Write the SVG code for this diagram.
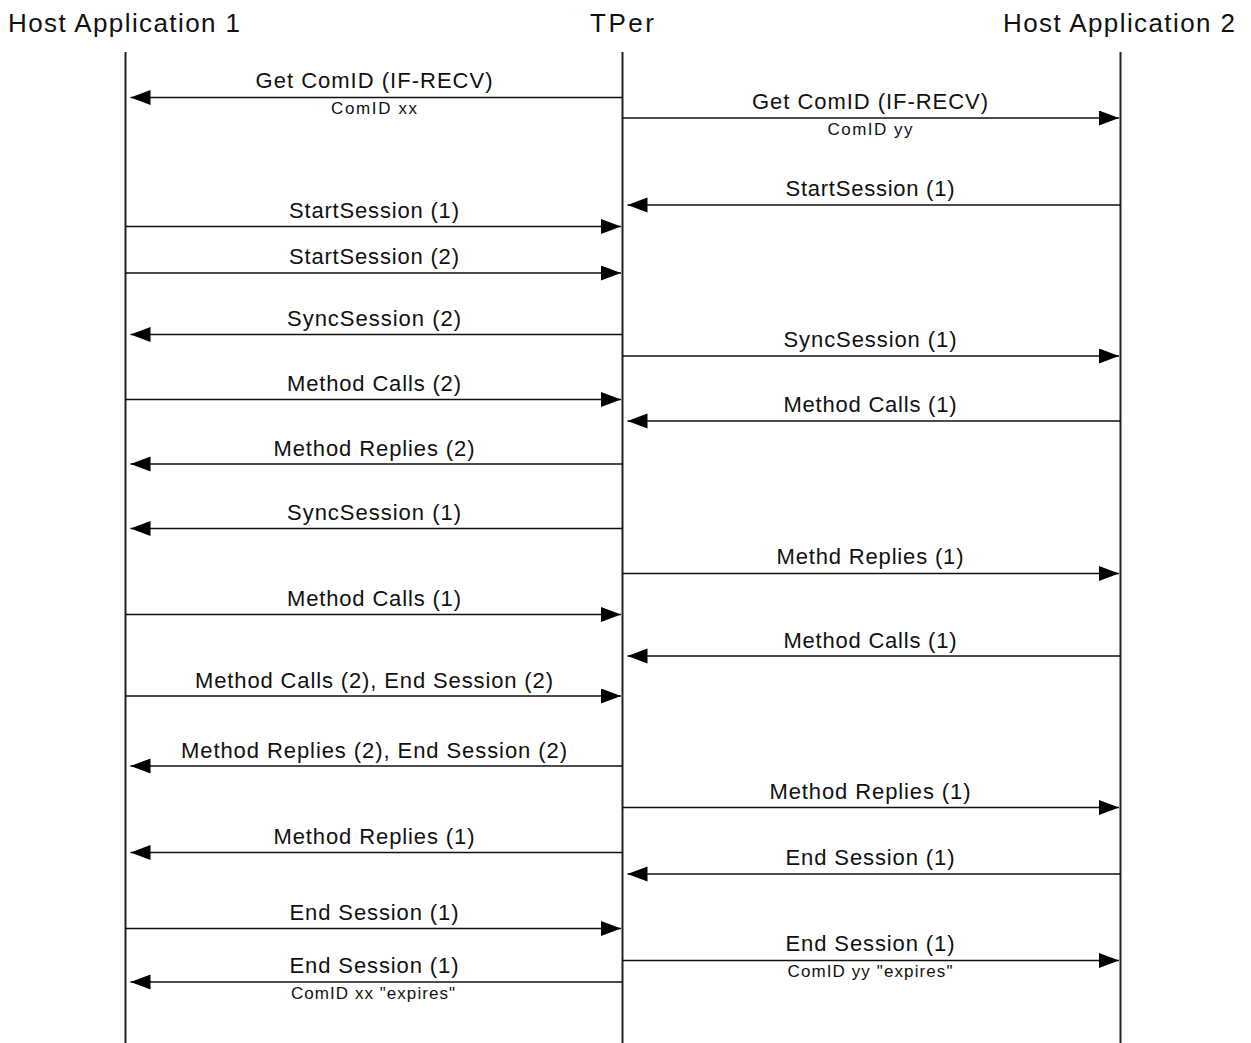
<svg xmlns="http://www.w3.org/2000/svg" width="1251" height="1043" viewBox="0 0 1251 1043">
  <style>
    .head { font-family: "Liberation Sans", Arial, sans-serif; font-size: 26px; fill: #111; }
    .lbl { font-family: "Liberation Sans", Arial, sans-serif; font-size: 22px; fill: #111; text-anchor: middle; }
    .sub { font-family: "Liberation Sans", Arial, sans-serif; font-size: 17px; fill: #111; text-anchor: middle; }
    .life { stroke: #222; stroke-width: 2; fill: none; }
    .msg { stroke: #111; stroke-width: 1.6; fill: none; marker-end: url(#head); }
  </style>
  <defs>
    <marker id="head" markerUnits="userSpaceOnUse" markerWidth="21" markerHeight="16" refX="20" refY="7.5" orient="auto" viewBox="0 0 21 16">
      <path d="M0,0 L20,7.5 L0,15 Z" fill="#000"/>
    </marker>
  </defs>
  <rect width="1251" height="1043" fill="#fff"/>

  <!-- participants -->
  <g id="host1">
    <text class="head" x="8" y="32" textLength="232" lengthAdjust="spacing">Host Application 1</text>
    <line class="life" x1="125.5" y1="52" x2="125.5" y2="1043"/>
  </g>
  <g id="tper">
    <text class="head" x="590" y="32" textLength="64" lengthAdjust="spacing">TPer</text>
    <line class="life" x1="622.5" y1="52" x2="622.5" y2="1043"/>
  </g>
  <g id="host2">
    <text class="head" x="1003" y="32" textLength="232" lengthAdjust="spacing">Host Application 2</text>
    <line class="life" x1="1120.5" y1="52" x2="1120.5" y2="1043"/>
  </g>

  <!-- messages -->
  <g id="connectors">
    <!-- Host Application 1 <-> TPer -->
    <line class="msg" x1="622.5" y1="97.5" x2="130.5" y2="97.5"/>
    <line class="msg" x1="125.5" y1="226.5" x2="621" y2="226.5"/>
    <line class="msg" x1="125.5" y1="273" x2="621" y2="273"/>
    <line class="msg" x1="622.5" y1="334.5" x2="130.5" y2="334.5"/>
    <line class="msg" x1="125.5" y1="399.5" x2="621" y2="399.5"/>
    <line class="msg" x1="622.5" y1="464" x2="130.5" y2="464"/>
    <line class="msg" x1="622.5" y1="528.5" x2="130.5" y2="528.5"/>
    <line class="msg" x1="125.5" y1="614.5" x2="621" y2="614.5"/>
    <line class="msg" x1="125.5" y1="696" x2="621" y2="696"/>
    <line class="msg" x1="622.5" y1="766" x2="130.5" y2="766"/>
    <line class="msg" x1="622.5" y1="852.5" x2="130.5" y2="852.5"/>
    <line class="msg" x1="125.5" y1="928.5" x2="621" y2="928.5"/>
    <line class="msg" x1="622.5" y1="982" x2="130.5" y2="982"/>
    <!-- TPer <-> Host Application 2 -->
    <line class="msg" x1="622.5" y1="118" x2="1119" y2="118"/>
    <line class="msg" x1="1120.5" y1="205" x2="627.5" y2="205"/>
    <line class="msg" x1="622.5" y1="356" x2="1119" y2="356"/>
    <line class="msg" x1="1120.5" y1="421" x2="627.5" y2="421"/>
    <line class="msg" x1="622.5" y1="573.5" x2="1119" y2="573.5"/>
    <line class="msg" x1="1120.5" y1="656" x2="627.5" y2="656"/>
    <line class="msg" x1="622.5" y1="807.5" x2="1119" y2="807.5"/>
    <line class="msg" x1="1120.5" y1="874" x2="627.5" y2="874"/>
    <line class="msg" x1="622.5" y1="960.5" x2="1119" y2="960.5"/>
  </g>

  <!-- message labels -->
  <g id="labels">
    <text class="lbl" x="374" y="88" textLength="237" lengthAdjust="spacing">Get ComID (IF-RECV)</text>
    <text class="sub" x="374" y="114" textLength="86" lengthAdjust="spacing">ComID xx</text>
    <text class="lbl" x="374" y="218" textLength="170" lengthAdjust="spacing">StartSession (1)</text>
    <text class="lbl" x="374" y="264" textLength="170" lengthAdjust="spacing">StartSession (2)</text>
    <text class="lbl" x="374" y="326" textLength="174" lengthAdjust="spacing">SyncSession (2)</text>
    <text class="lbl" x="374" y="391" textLength="174" lengthAdjust="spacing">Method Calls (2)</text>
    <text class="lbl" x="374" y="456" textLength="201" lengthAdjust="spacing">Method Replies (2)</text>
    <text class="lbl" x="374" y="520" textLength="174" lengthAdjust="spacing">SyncSession (1)</text>
    <text class="lbl" x="374" y="606" textLength="174" lengthAdjust="spacing">Method Calls (1)</text>
    <text class="lbl" x="374" y="688" textLength="358" lengthAdjust="spacing">Method Calls (2), End Session (2)</text>
    <text class="lbl" x="374" y="758" textLength="386" lengthAdjust="spacing">Method Replies (2), End Session (2)</text>
    <text class="lbl" x="374" y="844" textLength="201" lengthAdjust="spacing">Method Replies (1)</text>
    <text class="lbl" x="374" y="920" textLength="169" lengthAdjust="spacing">End Session (1)</text>
    <text class="lbl" x="374" y="973" textLength="169" lengthAdjust="spacing">End Session (1)</text>
    <text class="sub" x="373" y="999" textLength="164" lengthAdjust="spacing">ComID xx "expires"</text>

    <text class="lbl" x="870" y="109" textLength="236" lengthAdjust="spacing">Get ComID (IF-RECV)</text>
    <text class="sub" x="870" y="135" textLength="85" lengthAdjust="spacing">ComID yy</text>
    <text class="lbl" x="870" y="196" textLength="169" lengthAdjust="spacing">StartSession (1)</text>
    <text class="lbl" x="870" y="347" textLength="173" lengthAdjust="spacing">SyncSession (1)</text>
    <text class="lbl" x="870" y="412" textLength="173" lengthAdjust="spacing">Method Calls (1)</text>
    <text class="lbl" x="870" y="564" textLength="187" lengthAdjust="spacing">Methd Replies (1)</text>
    <text class="lbl" x="870" y="648" textLength="173" lengthAdjust="spacing">Method Calls (1)</text>
    <text class="lbl" x="870" y="799" textLength="201" lengthAdjust="spacing">Method Replies (1)</text>
    <text class="lbl" x="870" y="865" textLength="169" lengthAdjust="spacing">End Session (1)</text>
    <text class="lbl" x="870" y="951" textLength="169" lengthAdjust="spacing">End Session (1)</text>
    <text class="sub" x="870" y="977" textLength="165" lengthAdjust="spacing">ComID yy "expires"</text>
  </g>
</svg>
